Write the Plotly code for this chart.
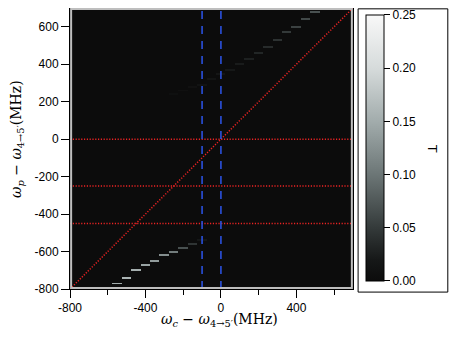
import numpy as np
import plotly.graph_objects as go

# detuning grid (MHz)
x_cols = [-800, -750, -700, -650, -600, -550, -500, -450, -400, -350, -300, -250, -200, -150,
          -100, -50, 0, 50, 100, 150, 200, 250, 300, 350, 400, 450, 500, 550, 600, 650, 700]
y_step = 10

# upper dressed branch: column centre, probe detuning, transmission
upper_x = [-250, -200, -150, -100, -50, 0, 50, 100, 150, 200, 250, 300, 350, 400, 450, 500]
upper_y = [245, 258, 276, 294, 316, 346, 370, 405, 432, 465, 495, 530, 566, 605, 643, 684]
upper_t = [0.006, 0.007, 0.009, 0.011, 0.014, 0.017, 0.020, 0.023, 0.027, 0.032, 0.037, 0.043,
           0.049, 0.056, 0.062, 0.069]

# lower dressed branch
lower_x = [-600, -550, -500, -450, -400, -350, -300, -250, -200, -150, -100]
lower_y = [-795, -770, -736, -704, -672, -645, -620, -597, -577, -559, -542]
lower_t = [0.110, 0.150, 0.158, 0.152, 0.142, 0.134, 0.122, 0.106, 0.068, 0.045, 0.018]

h_lines = [0, -250, -450]
v_lines = [-100, 0]
x_range = [-800, 700]
y_range = [-800, 700]

x_major = [-800, -400, 0, 400]
x_major_text = ["-800", "-400", "0", "400"]
x_minor = [-600, -200, 200, 600]
y_ticks = [-800, -600, -400, -200, 0, 200, 400, 600]
y_ticks_text = ["-800", "-600", "-400", "-200", "0", "200", "400", "600"]
cb_ticks = [0.0, 0.05, 0.10, 0.15, 0.20, 0.25]
cb_text = ["0.00", "0.05", "0.10", "0.15", "0.20", "0.25"]

y_rows = np.arange(y_range[0], y_range[1] + y_step, y_step)
z = np.zeros((len(y_rows), len(x_cols)))
for xs, ys, ts in [(upper_x, upper_y, upper_t), (lower_x, lower_y, lower_t)]:
    for xv, yv, tv in zip(xs, ys, ts):
        i = int(np.argmin(np.abs(y_rows - yv)))
        z[i, x_cols.index(xv)] = tv

grays = [
    [0.0, "rgb(12,12,12)"],
    [0.08, "rgb(22,24,24)"],
    [0.2, "rgb(52,58,58)"],
    [0.4, "rgb(108,118,118)"],
    [0.6, "rgb(162,172,172)"],
    [0.8, "rgb(214,219,219)"],
    [1.0, "rgb(248,248,248)"],
]
sans = "Liberation Sans, Arial"
serif = "DejaVu Serif"

fig = go.Figure()
fig.add_trace(go.Heatmap(
    x=x_cols, y=y_rows, z=z, zmin=0, zmax=0.25, colorscale=grays, zsmooth=False,
    colorbar=dict(
        x=1.046, xanchor="left", y=0.502, yanchor="middle", len=0.947, thickness=18,
        xpad=0, ypad=0, outlinecolor="black", outlinewidth=1,
        tickmode="array", tickvals=cb_ticks, ticktext=cb_text,
        ticks="outside", ticklen=6, tickcolor="black",
        tickfont=dict(family=sans, size=12, color="black"),
    ),
))

red_dot = dict(color="rgb(235,35,35)", width=1.5, dash="1.2px,1.6px")
# diagonal omega_p = omega_c
fig.add_trace(go.Scatter(x=x_range, y=y_range, mode="lines", showlegend=False, line=red_dot))
for yv in h_lines:
    fig.add_hline(y=yv, line=red_dot)
for xv in v_lines:
    fig.add_vline(x=xv, line=dict(color="rgb(45,85,235)", width=1.5, dash="8px,7px"))

# frame details
fig.add_shape(type="rect", xref="paper", yref="paper", x0=0.004, x1=0.996, y0=0.004, y1=0.996,
              line=dict(color="rgb(190,190,190)", width=2), layer="above")
fig.add_shape(type="rect", xref="paper", yref="paper", x0=1.018, x1=1.335, y0=-0.011, y1=0.997,
              line=dict(color="black", width=1))

fig.add_annotation(xref="paper", yref="paper", x=0.53, y=-0.11, yanchor="middle", showarrow=False,
                   text="<i>ω</i><sub><i>c</i></sub> − <i>ω</i><sub>4→5′</sub>(MHz)",
                   font=dict(family=serif, size=14, color="black"))
fig.add_annotation(xref="paper", yref="paper", x=-0.19, y=0.535, xanchor="center", showarrow=False,
                   textangle=-90,
                   text="<i>ω</i><sub><i>p</i></sub> − <i>ω</i><sub>4→5′</sub>(MHz)",
                   font=dict(family=serif, size=14, color="black"))
fig.add_annotation(xref="paper", yref="paper", x=1.315, y=0.5, showarrow=False, textangle=90,
                   text="T", font=dict(family=sans, size=13, color="black"))

fig.update_xaxes(range=x_range, tickmode="array", tickvals=x_major, ticktext=x_major_text,
                 ticks="outside", ticklen=8, tickcolor="black", showgrid=False, zeroline=False,
                 showline=True, linecolor="black", linewidth=1, mirror=True,
                 minor=dict(tickvals=x_minor, ticks="outside", ticklen=5,
                            tickcolor="black", showgrid=False),
                 tickfont=dict(family=sans, size=12, color="black"))
fig.update_yaxes(range=y_range, tickmode="array", tickvals=y_ticks, ticktext=y_ticks_text,
                 ticks="outside", ticklen=8, tickcolor="black", showgrid=False, zeroline=False,
                 showline=True, linecolor="black", linewidth=1, mirror=True,
                 tickfont=dict(family=sans, size=12, color="black"))

# page body keeps its default 8px margin, so the figure is sized to fit inside the window
fig.update_layout(width=449, height=326, margin=dict(l=62, r=104, t=0, b=45),
                  paper_bgcolor="white", plot_bgcolor="rgb(12,12,12)", showlegend=False)

fig.write_html("out.html")
